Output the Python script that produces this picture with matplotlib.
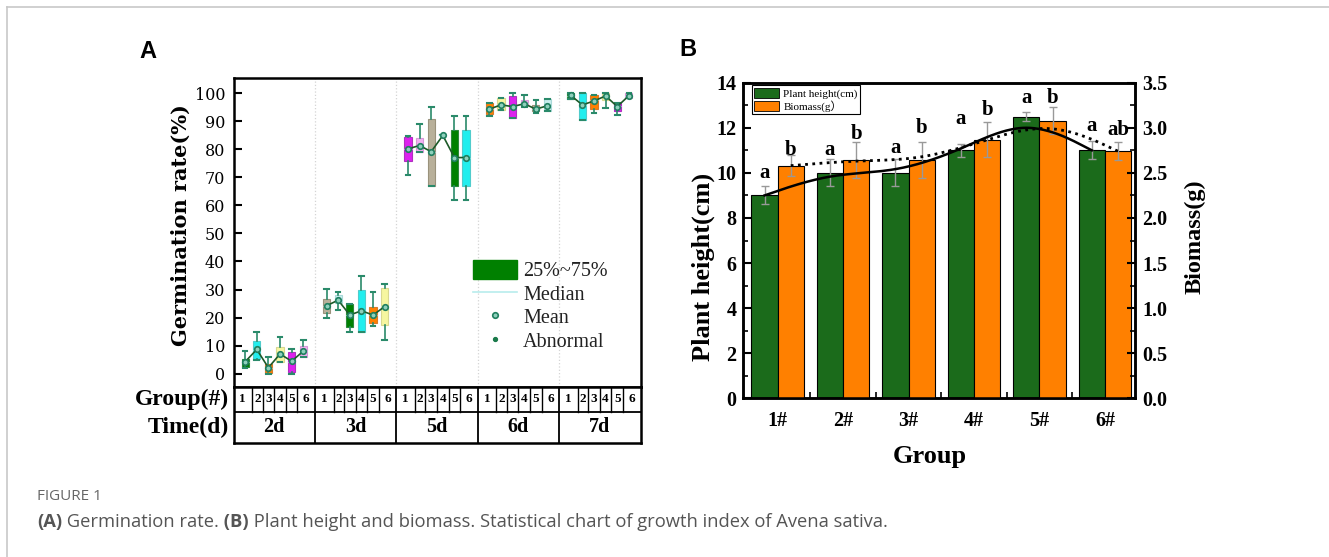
import numpy as np
import matplotlib
matplotlib.use('Agg')
import matplotlib.pyplot as plt
from matplotlib.patches import Patch
from matplotlib.lines import Line2D
from matplotlib.ticker import MultipleLocator, FixedLocator

plt.rcParams['font.family'] = ['Liberation Serif', 'DejaVu Serif']

# ---------------- data: panel A (germination rate, %) ----------------
times = ['2d', '3d', '5d', '6d', '7d']
groups = ['1', '2', '3', '4', '5', '6']
q1 = [2.4, 5.1, 0.1, 4.2, 0.6, 5.9,
      21.6, 25.1, 16.5, 14.9, 18.1, 17.3,
      76.0, 79.0, 67.0, 85.0, 67.0, 67.0,
      92.6, 94.0, 91.1, 95.8, 93.8, 93.7,
      98.0, 90.6, 94.6, 97.7, 93.6, 98.5]
q3 = [5.2, 11.7, 3.4, 9.4, 7.8, 9.8,
      26.6, 28.0, 24.8, 29.8, 23.9, 30.4,
      84.4, 84.0, 90.9, 85.0, 87.0, 87.0,
      96.4, 98.4, 99.1, 97.6, 95.8, 97.9,
      100.0, 100.0, 99.5, 100.0, 96.6, 100.0]
wlo = [1.9, 5.0, 0.0, 4.0, 0.0, 5.8,
       19.7, 22.7, 14.9, 14.9, 17.0, 12.0,
       70.9, 79.0, 67.0, 85.0, 61.8, 61.8,
       92.0, 94.0, 91.1, 95.3, 93.0, 93.7,
       98.0, 90.6, 92.9, 94.7, 92.3, 98.5]
whi = [8.0, 14.9, 6.0, 12.9, 8.8, 11.9,
       30.1, 29.0, 24.8, 34.9, 29.0, 32.0,
       84.9, 89.1, 95.1, 85.0, 92.1, 92.1,
       96.4, 98.4, 100.0, 99.4, 97.6, 97.9,
       100.0, 100.0, 99.5, 100.0, 96.6, 100.0]
med = [4.0, 8.5, 2.0, 7.0, 4.0, 8.0,
       24.0, 26.0, 21.0, 22.0, 21.0, 24.0,
       80.0, 81.0, 79.0, 85.0, 77.0, 77.0,
       94.5, 96.0, 95.5, 96.5, 94.5, 95.5,
       99.0, 96.0, 97.5, 99.0, 95.5, 99.0]
mean = [4.2, 8.6, 2.1, 7.0, 4.4, 8.0,
        24.2, 26.2, 20.9, 22.4, 20.9, 23.9,
        80.2, 81.4, 79.2, 85.0, 77.1, 77.1,
        94.4, 95.9, 95.3, 96.3, 94.4, 95.6,
        99.3, 95.9, 97.3, 99.1, 95.3, 99.2]
box_colors = ['#008000', '#22eeee', '#ff8000', '#f6f6a0',
              '#dd22ee', '#f2b2f2', '#b8b09a', '#c8eeee']
box_edges = ['#2a8a3a', '#50cccc', '#d87a2a', '#d8d890',
             '#b030c0', '#d898d8', '#9a927c', '#a8d8d8']

# ---------------- data: panel B ----------------
cats = ['1#', '2#', '3#', '4#', '5#', '6#']
height = [9.0, 10.0, 10.0, 11.0, 12.5, 11.0]
height_err = [0.4, 0.6, 0.6, 0.3, 0.2, 0.4]
biomass = [2.58, 2.64, 2.64, 2.87, 3.08, 2.74]
biomass_err = [0.115, 0.2, 0.2, 0.19, 0.15, 0.1]
height_letters = ['a', 'a', 'a', 'a', 'a', 'a']
biomass_letters = ['b', 'b', 'b', 'b', 'b', 'ab']
height_letter_y = [10.0, 11.0, 11.1, 12.4, 13.3, 12.1]
biomass_letter_y = [2.75, 2.93, 3.0, 3.2, 3.33, 2.98]

W, H = 1329, 557
fig = plt.figure(figsize=(W / 100, H / 100), dpi=100)


def fx(px):
    return px / W


def fy(py):
    return 1 - py / H


# page frame lines
fig.add_artist(Line2D([fx(7), 1], [fy(7), fy(7)], color='#c8c8c8', lw=1.2,
                      transform=fig.transFigure))
fig.add_artist(Line2D([fx(7), fx(7)], [0, fy(7)], color='#c8c8c8', lw=1.2,
                      transform=fig.transFigure))

# ================= Panel A =================
axA = fig.add_axes([fx(233.5), fy(387), (640.5 - 233.5) / W, (387 - 78) / H])
n_t, n_g = len(times), len(groups)
positions = [t * (n_g + 1) + g + 1 for t in range(n_t) for g in range(n_g)]
stats = [dict(q1=q1[i], q3=q3[i], med=med[i], whislo=wlo[i], whishi=whi[i],
              mean=mean[i], fliers=[]) for i in range(n_t * n_g)]
bp = axA.bxp(stats, positions=positions, widths=0.62, capwidths=0.4,
             patch_artist=True, showfliers=False, showmeans=False,
             manage_ticks=False,
             whiskerprops=dict(color='#2a8a6a', lw=1.2),
             capprops=dict(color='#2a8a6a', lw=1.5),
             medianprops=dict(color='#b8ecec', lw=0.8),
             boxprops=dict(lw=0.8))
for i, b in enumerate(bp['boxes']):
    b.set_facecolor(box_colors[i % 8])
    b.set_edgecolor(box_edges[i % 8])
for t in range(n_t):
    sl = slice(t * n_g, (t + 1) * n_g)
    axA.plot(positions[sl], mean[sl], color='#1d5a28', lw=1.2, marker='o',
             ms=4.0, mfc='#8fd0bc', mec='#1f7f5f', mew=1.2, zorder=5)
for t in range(1, n_t):
    axA.axvline(t * (n_g + 1), color='#d4d4d4', ls=':', lw=0.9, zorder=0)
axA.set_xlim(0, n_t * (n_g + 1))
axA.set_ylim(-4.8, 105.5)
axA.set_xticks([])
axA.set_yticks(range(0, 101, 10))
axA.tick_params(axis='y', direction='in', length=6, width=1.5, pad=6,
                labelsize=11.5)
for lbl in axA.get_yticklabels():
    lbl.set_family('DejaVu Serif')
for s in axA.spines.values():
    s.set_linewidth(1.8)

legA_handles = [Patch(facecolor='#008000', edgecolor='#008000'),
                Line2D([], [], color='#b8ecec', lw=1.2),
                Line2D([], [], ls='none', marker='o', ms=4.0, mfc='#8fd0bc',
                       mec='#1f7f5f', mew=1.2),
                Line2D([], [], ls='none', marker='o', ms=2.8, color='#1a7a4a')]
axA.legend(legA_handles, ['25%~75%', 'Median', 'Mean', 'Abnormal'],
           loc='upper left', bbox_to_anchor=(0.588, 0.411), frameon=False,
           fontsize=14.5, handlelength=2.2, handleheight=1.05,
           labelspacing=0.12, handletextpad=0.3, borderpad=0,
           borderaxespad=0, labelcolor='#222222')

fig.text(fx(181), fy(225), 'Germination rate(%)', rotation=90, ha='center',
         va='center', fontsize=15, fontweight='bold', family='DejaVu Serif')

# table under panel A
axT = fig.add_axes([fx(233.5), fy(443), (640.5 - 233.5) / W, (443 - 387) / H])
axT.set_xlim(0, n_t * (n_g + 1))
axT.set_ylim(0, 1)
axT.set_xticks([])
axT.set_yticks([])
for s in axT.spines.values():
    s.set_linewidth(1.8)
split = 0.554
axT.axhline(split, color='k', lw=1.3)
cell_edges = [1.6, 2.5, 3.5, 4.5, 5.5]
cell_centers = [0.8, 2.05, 3.0, 4.0, 5.0, 6.25]
for t in range(n_t):
    base = t * (n_g + 1)
    if t > 0:
        axT.plot([base, base], [0, 1], color='k', lw=1.3)
    for e in cell_edges:
        axT.plot([base + e, base + e], [split, 1], color='k', lw=1.0)
    for g in range(n_g):
        axT.text(base + cell_centers[g], (1 + split) / 2, groups[g],
                 ha='center', va='center', fontsize=9.5, fontweight='bold')
    axT.text(base + (n_g + 1) / 2, split / 2, times[t], ha='center',
             va='center', fontsize=14.5, fontweight='bold')
axT.text(-0.012, (1 + split) / 2, 'Group(#)', transform=axT.transAxes,
         ha='right', va='center', fontsize=17, fontweight='bold')
axT.text(-0.012, split / 2, 'Time(d)', transform=axT.transAxes,
         ha='right', va='center', fontsize=17, fontweight='bold')

# ================= Panel B =================
axB = fig.add_axes([fx(743.3), fy(398.3), (1135 - 743.3) / W, (398.3 - 82.7) / H])
axB2 = axB.twinx()
x = np.arange(1, len(cats) + 1)
bw = 0.4
green = '#1b6b1b'
orange = '#ff8000'
ekw = dict(ecolor='#999999', capsize=3, elinewidth=1, capthick=1)
axB.bar(x - bw / 2, height, bw, color=green, edgecolor='black', lw=0.8,
        yerr=height_err, error_kw=ekw, label='Plant height(cm)')
axB2.bar(x + bw / 2, biomass, bw, color=orange, edgecolor='black', lw=0.8,
         yerr=biomass_err, error_kw=ekw, label='Biomass(g）')


def bspline(px, py, n=40):
    px = np.concatenate([[px[0]] * 2, px, [px[-1]] * 2])
    py = np.concatenate([[py[0]] * 2, py, [py[-1]] * 2])
    t = np.linspace(0, 1, n)
    b0 = (1 - t) ** 3 / 6
    b1 = (3 * t ** 3 - 6 * t ** 2 + 4) / 6
    b2 = (-3 * t ** 3 + 3 * t ** 2 + 3 * t + 1) / 6
    b3 = t ** 3 / 6
    xs, ys = [], []
    for i in range(len(px) - 3):
        xs.append(b0 * px[i] + b1 * px[i + 1] + b2 * px[i + 2] + b3 * px[i + 3])
        ys.append(b0 * py[i] + b1 * py[i + 1] + b2 * py[i + 2] + b3 * py[i + 3])
    return np.concatenate(xs), np.concatenate(ys)


sx, sy = bspline(x - bw / 2, np.array(height, float))
axB2.plot(sx, sy, color='black', lw=1.8, transform=axB.transData, zorder=6)
dx, dy = bspline(x + bw / 2, np.array(biomass, float))
axB2.plot(dx, dy, color='black', lw=2.0, ls=(0, (1, 1.6)), zorder=6)

for i in range(len(cats)):
    axB2.text(x[i] - bw / 2, height_letter_y[i], height_letters[i],
              transform=axB.transData, ha='center', va='center',
              fontsize=15, fontweight='bold')
    axB2.text(x[i] + bw / 2, biomass_letter_y[i], biomass_letters[i],
              ha='center', va='center', fontsize=15, fontweight='bold')

axB.set_xlim(0.475, 6.46)
axB.set_ylim(0, 14)
axB2.set_ylim(0, 3.5)
axB.set_xticks(x)
axB.set_xticklabels(cats)
axB.xaxis.set_minor_locator(FixedLocator(x[:-1] + 0.5))
axB.yaxis.set_major_locator(MultipleLocator(2))
axB.yaxis.set_minor_locator(MultipleLocator(1))
axB2.yaxis.set_major_locator(MultipleLocator(0.5))
axB2.yaxis.set_minor_locator(MultipleLocator(0.25))
axB.tick_params(axis='x', which='major', length=0, pad=9, labelsize=14.5)
axB.tick_params(axis='x', which='minor', direction='in', length=4, width=1.2)
axB.tick_params(axis='y', which='major', direction='in', length=6, width=1.5,
                labelsize=14.5, pad=5)
axB.tick_params(axis='y', which='minor', direction='in', length=3.5, width=1.2)
axB2.tick_params(axis='y', which='major', direction='in', length=6, width=1.5,
                 labelsize=14.5, pad=5)
axB2.tick_params(axis='y', which='minor', direction='in', length=3.5, width=1.2)
for lbl in axB.get_xticklabels() + axB.get_yticklabels() + axB2.get_yticklabels():
    lbl.set_fontweight('bold')
for s in list(axB.spines.values()) + list(axB2.spines.values()):
    s.set_linewidth(1.8)

legB = axB2.legend(handles=[Patch(facecolor=green, edgecolor='black', lw=0.6),
                            Patch(facecolor=orange, edgecolor='black', lw=0.6)],
                   labels=['Plant height(cm)', 'Biomass(g）'],
                   loc='upper left', bbox_to_anchor=(0.021, 0.993),
                   fontsize=8, handlelength=2.2, handleheight=1.0,
                   labelspacing=0.1, handletextpad=0.4, borderpad=0.25,
                   borderaxespad=0, fancybox=False, framealpha=1,
                   edgecolor='black')
legB.get_frame().set_linewidth(0.8)
for t in legB.get_texts():
    t.set_family(['Liberation Serif', 'Noto Sans CJK SC'])

fig.text(fx(703), fy(267), 'Plant height(cm)', rotation=90, ha='center',
         va='center', fontsize=19, fontweight='bold')
fig.text(fx(1195), fy(237), 'Biomass(g)', rotation=90, ha='center',
         va='center', fontsize=17.5, fontweight='bold')
fig.text(fx(930), fy(456), 'Group', ha='center', va='center', fontsize=19,
         fontweight='bold')

# panel letters
fig.text(fx(148), fy(52), 'A', ha='center', va='center', fontsize=17,
         fontweight='bold', family='Liberation Sans')
fig.text(fx(688), fy(50), 'B', ha='center', va='center', fontsize=17,
         fontweight='bold', family='Liberation Sans')

# caption
fig.text(fx(37), fy(497), 'FIGURE 1', ha='left', va='center', fontsize=11,
         color='#666666', family='Open Sans')
pieces = [('(A)', 'bold'), (' Germination rate.', 'normal'), (' (B)', 'bold'),
          (' Plant height and biomass. Statistical chart of growth index of '
           'Avena sativa.', 'normal')]
renderer = fig.canvas.get_renderer()


def caption_width(size):
    total = 0
    for s, w in pieces:
        t = fig.text(0, 0, s, fontsize=size, fontweight=w, family='Open Sans')
        total += t.get_window_extent(renderer).width
        t.remove()
    return total


size = 11.0
size = size * (887 - 37) / caption_width(size)
xc = 37
for s, w in pieces:
    t = fig.text(fx(xc), fy(522), s, ha='left', va='center', fontsize=size,
                 fontweight=w, family='Open Sans', color='#555555')
    xc += t.get_window_extent(renderer).width

fig.savefig('out.png', dpi=100)
